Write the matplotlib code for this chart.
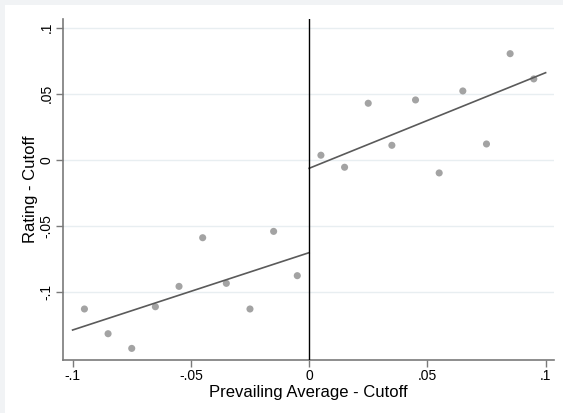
import matplotlib
matplotlib.use("Agg")
import matplotlib.pyplot as plt
import numpy as np
from matplotlib.patches import Rectangle

plt.rcParams['font.family'] = ['Liberation Sans', 'DejaVu Sans']

# Binned scatter data
x_left = [-0.095, -0.085, -0.075, -0.065, -0.055, -0.045, -0.035, -0.025, -0.015, -0.005]
y_left = [-0.1127, -0.1314, -0.1425, -0.1110, -0.0956, -0.0588, -0.0933, -0.1127, -0.0540, -0.0875]
x_right = [0.005, 0.015, 0.025, 0.035, 0.045, 0.055, 0.065, 0.075, 0.085, 0.095]
y_right = [0.0036, -0.0055, 0.0429, 0.0111, 0.0454, -0.0098, 0.0522, 0.0121, 0.0804, 0.0613]

# Fitted lines (endpoints)
fit_left_x = [-0.1, 0.0]
fit_left_y = [-0.1286, -0.0701]
fit_right_x = [0.0, 0.1]
fit_right_y = [-0.0063, 0.0660]

xticks = [-0.1, -0.05, 0, 0.05, 0.1]
xticklabels = ['-.1', '-.05', '0', '.05', '.1']
yticks = [-0.1, -0.05, 0, 0.05, 0.1]
yticklabels = ['-.1', '-.05', '0', '.05', '.1']

fig = plt.figure(figsize=(5.63, 4.13), dpi=100)
fig.patch.set_facecolor('#f1f3f5')
fig.patches.append(Rectangle((5/563, 0), 1, 1 - 5/413, transform=fig.transFigure,
                             facecolor='white', edgecolor='none', zorder=-10))
ax = fig.add_axes([63/563, 1 - 359.5/413, (554 - 63)/563, (359.5 - 18.5)/413])
ax.set_zorder(5)
ax.set_facecolor('white')

for yv in yticks:
    ax.axhline(yv, color='#e8eef1', lw=1.0, zorder=0)

ax.scatter(x_left + x_right, y_left + y_right, s=26, color='#a3a3a3', edgecolors='none', zorder=3)
ax.plot(fit_left_x, fit_left_y, color='#5a5a5a', lw=1.2, zorder=4)
ax.plot(fit_right_x, fit_right_y, color='#5a5a5a', lw=1.2, zorder=4)
ax.axvline(0, color='black', lw=1.0, zorder=5)

ax.set_xlim(-0.10406, 0.10355)
ax.set_ylim(-0.1509, 0.107)

ax.set_xticks(xticks)
ax.set_xticklabels(xticklabels)
ax.set_yticks(yticks)
ax.set_yticklabels(yticklabels, rotation=90, va='center')

for side in ['top', 'right']:
    ax.spines[side].set_visible(False)
for side in ['left', 'bottom']:
    ax.spines[side].set_color('#7a7a7a')
    ax.spines[side].set_linewidth(1.2)

ax.tick_params(axis='both', direction='out', length=5, width=1, color='#7a7a7a',
               labelsize=10, labelcolor='black', pad=2)

ax.set_xlabel('Prevailing Average - Cutoff', fontsize=12, labelpad=1)
ax.set_ylabel('Rating - Cutoff', fontsize=12, labelpad=1)

fig.savefig('out.png', dpi=100)
